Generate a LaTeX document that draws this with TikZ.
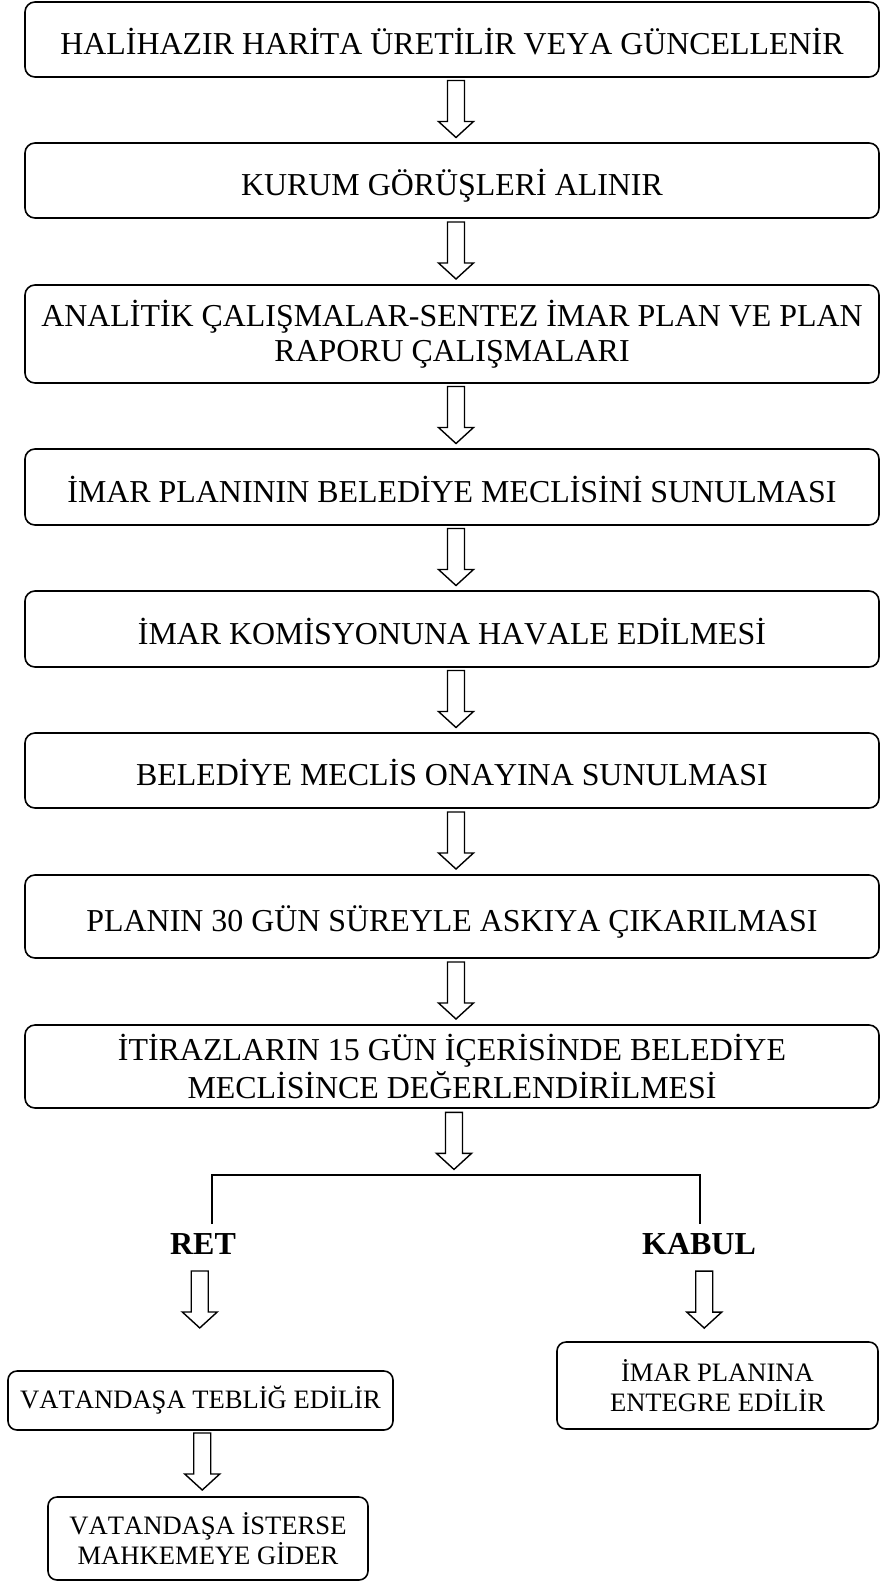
\documentclass[tikz,border=0pt]{standalone}
\usepackage{fontspec}
\setmainfont{Liberation Serif}[Kerning=Off]
\usetikzlibrary{calc, positioning}
\tikzstyle{box} = [rectangle, rounded corners=10pt, draw=black, line width=1.6pt, inner sep=0pt, align=center, font=\fontsize{31.9}{35}\selectfont]
\tikzstyle{single} = [box, minimum width=854pt, text height=30pt, text depth=0pt]
\tikzstyle{smallbox} = [box, rounded corners=9pt, font=\fontsize{26.6}{30}\selectfont]
\tikzstyle{answer} = [inner sep=0pt, font=\fontsize{32}{36}\selectfont\bfseries]
\tikzstyle{line} = [line width=1.5pt]
\tikzset{blockarrow/.pic={\draw[line width=1.4pt] (-8.5,-28.5) -- (8.5,-28.5) -- (8.5,12.5) -- (17.5,12.5) -- (0,28.5) -- (-17.5,12.5) -- (-8.5,12.5) -- cycle;}}

\begin{document}
\begin{tikzpicture}[x=1pt, y=-1pt]
				\useasboundingbox (0,0) rectangle (880,1583);
				\node (b1) [single, minimum height=75pt] at (452,39.5) {HALİHAZIR HARİTA ÜRETİLİR VEYA GÜNCELLENİR};
				\node (b2) [single, minimum height=75pt] at (452,180.5) {KURUM GÖRÜŞLERİ ALINIR};
				\node (b3) [box, minimum width=854pt, minimum height=98pt] at (452,334) {ANALİTİK ÇALIŞMALAR-SENTEZ İMAR PLAN VE PLAN\\RAPORU ÇALIŞMALARI};
				\node (b4) [single, minimum height=76pt] at (452,487) {İMAR PLANININ BELEDİYE MECLİSİNİ SUNULMASI};
				\node (b5) [single, minimum height=76pt] at (452,629) {İMAR KOMİSYONUNA HAVALE EDİLMESİ};
				\node (b6) [single, minimum height=75pt] at (452,770.5) {BELEDİYE MECLİS ONAYINA SUNULMASI};
				\node (b7) [single, minimum height=83pt] at (452,916.5) {PLANIN 30 GÜN SÜREYLE ASKIYA ÇIKARILMASI};
				\node (b8) [box, minimum width=854pt, minimum height=83pt] at (452,1066.5) {İTİRAZLARIN 15 GÜN İÇERİSİNDE BELEDİYE\\[3pt]MECLİSİNCE DEĞERLENDİRİLMESİ};
				\pic at ($(b1.south)!0.5!(b2.north)+(4,-1)$) {blockarrow};
				\pic at ($(b2.south)!0.5!(b3.north)+(4,-1)$) {blockarrow};
				\pic at ($(b3.south)!0.5!(b4.north)+(4,-1)$) {blockarrow};
				\pic at ($(b4.south)!0.5!(b5.north)+(4,-1)$) {blockarrow};
				\pic at ($(b5.south)!0.5!(b6.north)+(4,-1)$) {blockarrow};
				\pic at ($(b6.south)!0.5!(b7.north)+(4,-1)$) {blockarrow};
				\pic at ($(b7.south)!0.5!(b8.north)+(4,-1)$) {blockarrow};
				\coordinate (fork) at (456,1175);
				\pic at ($(b8.south)!0.5!(fork)+(0,-1)$) {blockarrow};
				\coordinate (retend) at (212,1224);
				\coordinate (kabend) at (700,1224);
				\draw[line] (retend) |- (fork) -| (kabend);
				\node (ret) [answer] at (203,1244) {RET};
				\node (kabul) [answer] at (699,1244) {KABUL};
				\node (teblig) [smallbox, minimum width=385pt, minimum height=59pt] at (200.5,1400.5) {VATANDAŞA TEBLİĞ EDİLİR};
				\node (entegre) [smallbox, minimum width=321pt, minimum height=87pt] at (717.5,1385.5) {İMAR PLANINA\\ENTEGRE EDİLİR};
				\node (mahkeme) [smallbox, minimum width=320pt, minimum height=83pt] at (208,1538.5) {VATANDAŞA İSTERSE\\MAHKEMEYE GİDER};
				\pic at ($(ret.south)!0.5!(teblig.north)+(-2,-13)$) {blockarrow};
				\pic at ($(kabul.south)!0.5!(entegre.north)+(-4,1.5)$) {blockarrow};
				\pic at ($(teblig.south)!0.5!(mahkeme.north)+(-2,-2)$) {blockarrow};
			\end{tikzpicture}
\end{document}
